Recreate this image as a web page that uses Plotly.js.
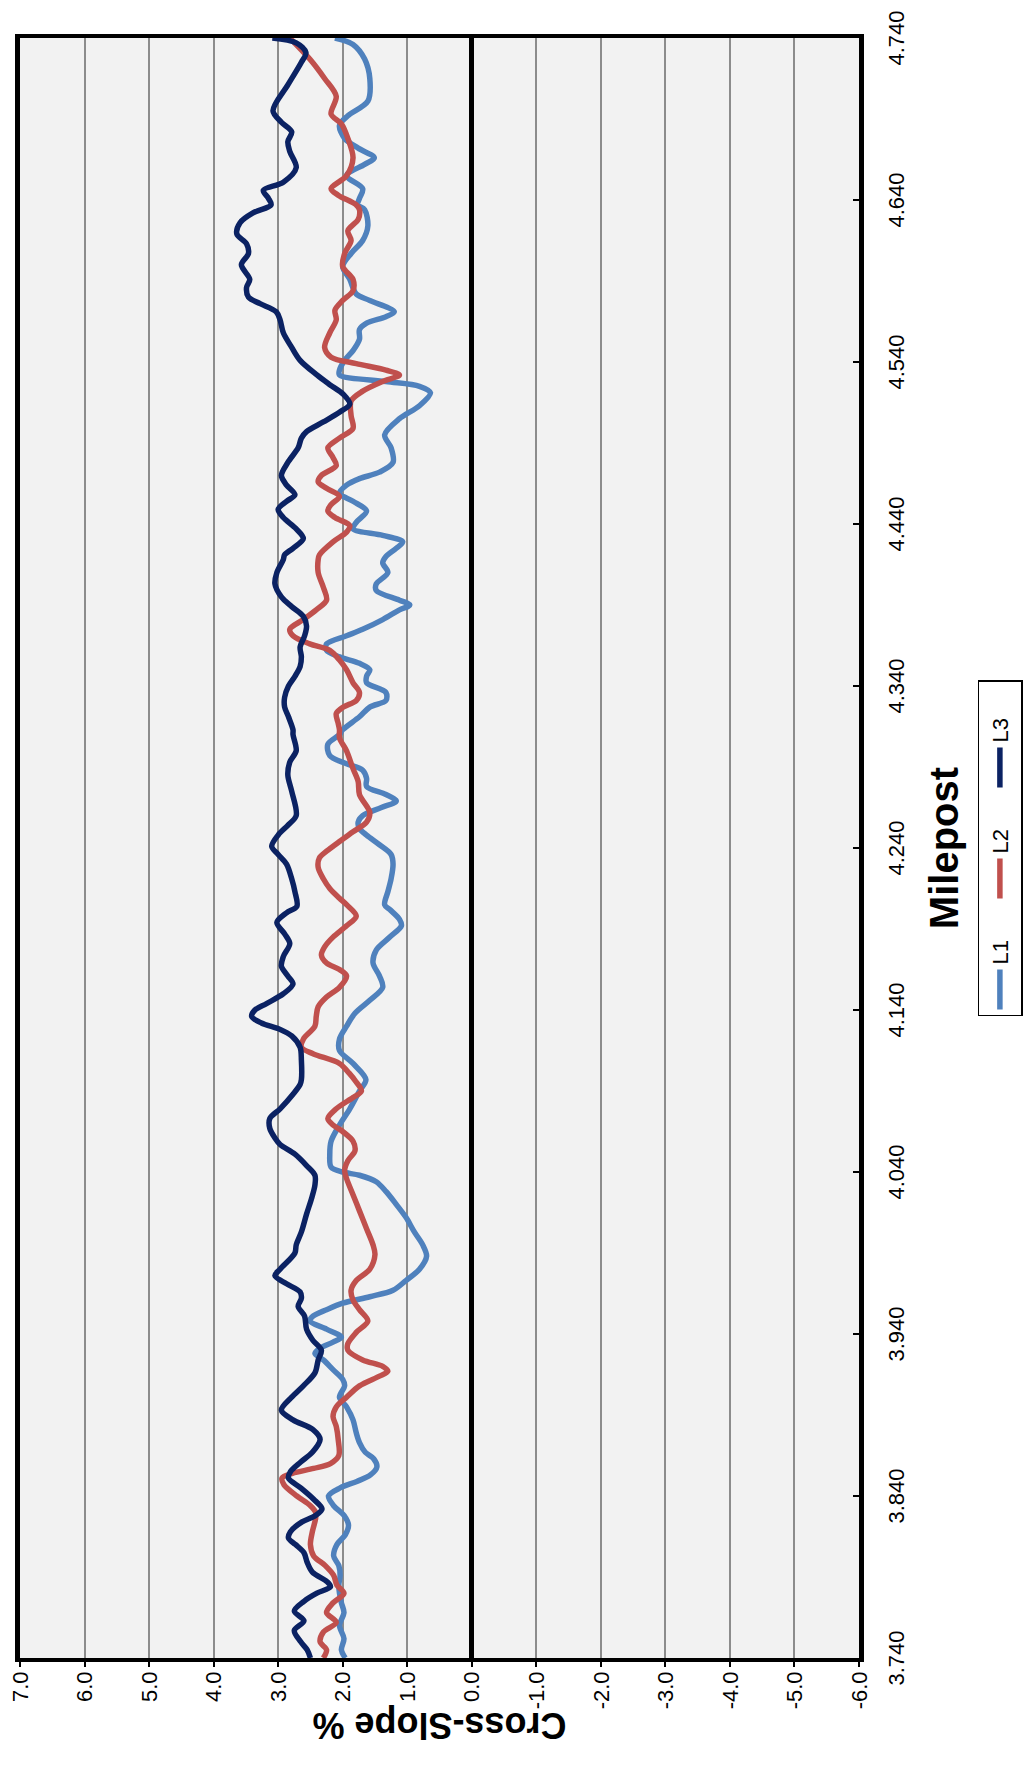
<!DOCTYPE html>
<html><head><meta charset="utf-8">
<script src="https://cdn.plot.ly/plotly-3.0.1.min.js"></script>
<style>
html,body{margin:0;padding:0;background:#fff;overflow:hidden;width:1034px;height:1787px;}
#wrap{position:absolute;left:0;top:0;width:1787px;height:1034px;transform-origin:0 0;transform:translateY(1787px) rotate(-90deg);}
</style></head><body><div id="wrap"><div id="chart" style="width:1787px;height:1034px"></div></div>
<script>
// Milepost / cross-slope (%) readings per lane
const l1Mile = [4.740,4.736,4.727,4.715,4.701,4.692,4.686,4.678,4.672,4.666,4.662,4.655,4.647,4.641,4.637,4.634,4.624,4.615,4.607,4.599,4.591,4.582,4.578,4.571,4.568,4.564,4.560,4.554,4.547,4.541,4.535,4.532,4.528,4.525,4.521,4.513,4.505,4.495,4.487,4.478,4.472,4.468,4.464,4.459,4.454,4.448,4.441,4.437,4.433,4.429,4.425,4.420,4.416,4.410,4.403,4.399,4.393,4.390,4.387,4.381,4.375,4.371,4.366,4.362,4.358,4.354,4.350,4.346,4.342,4.336,4.331,4.327,4.321,4.313,4.310,4.304,4.297,4.292,4.288,4.283,4.278,4.273,4.269,4.265,4.260,4.256,4.252,4.248,4.242,4.236,4.230,4.221,4.213,4.205,4.202,4.196,4.192,4.185,4.177,4.169,4.161,4.154,4.146,4.138,4.130,4.122,4.115,4.107,4.097,4.090,4.079,4.069,4.059,4.051,4.043,4.040,4.038,4.034,4.028,4.020,4.012,4.003,3.995,3.988,3.980,3.973,3.967,3.963,3.959,3.955,3.951,3.948,3.943,3.938,3.935,3.931,3.928,3.924,3.918,3.912,3.908,3.901,3.895,3.887,3.879,3.873,3.867,3.863,3.858,3.853,3.849,3.845,3.840,3.834,3.828,3.822,3.816,3.810,3.803,3.797,3.791,3.785,3.780,3.774,3.768,3.760,3.752,3.745,3.740];
const l1Slope = [2.12,1.84,1.66,1.58,1.61,1.92,2.05,1.97,1.76,1.51,1.66,1.94,1.69,1.74,1.77,1.66,1.61,1.69,1.87,2.00,1.89,1.79,1.58,1.20,1.33,1.63,1.74,1.74,1.84,1.97,2.05,2.05,1.33,0.81,0.64,0.81,1.12,1.35,1.25,1.22,1.43,1.74,1.94,2.05,1.84,1.63,1.79,1.84,1.38,1.07,1.17,1.33,1.38,1.30,1.48,1.48,1.12,0.96,1.12,1.38,1.69,1.94,2.25,2.25,2.05,1.74,1.58,1.63,1.63,1.33,1.33,1.58,1.74,2.00,2.05,2.23,2.20,1.94,1.69,1.63,1.63,1.33,1.17,1.40,1.69,1.76,1.74,1.63,1.43,1.25,1.22,1.25,1.30,1.35,1.27,1.12,1.09,1.27,1.48,1.53,1.43,1.38,1.58,1.81,1.94,2.05,2.05,1.84,1.64,1.74,1.89,2.05,2.18,2.20,2.18,2.00,1.74,1.48,1.33,1.17,1.02,0.89,0.76,0.70,0.81,1.02,1.22,1.58,2.00,2.25,2.46,2.51,2.25,2.02,2.15,2.36,2.43,2.30,2.15,2.00,1.97,2.05,1.94,1.84,1.79,1.74,1.65,1.52,1.47,1.57,1.78,2.04,2.22,2.14,1.98,1.91,1.96,2.09,2.14,2.06,2.04,2.06,2.05,2.02,1.98,2.05,1.98,2.02,1.96];

const l2Mile = [4.740,4.727,4.715,4.704,4.693,4.687,4.678,4.666,4.655,4.647,4.643,4.637,4.634,4.628,4.621,4.615,4.607,4.599,4.591,4.584,4.578,4.572,4.566,4.558,4.549,4.543,4.539,4.535,4.532,4.528,4.522,4.516,4.507,4.499,4.493,4.487,4.481,4.476,4.470,4.466,4.462,4.457,4.452,4.448,4.444,4.439,4.435,4.429,4.421,4.418,4.410,4.401,4.393,4.387,4.381,4.375,4.371,4.366,4.362,4.356,4.350,4.342,4.336,4.331,4.327,4.323,4.317,4.313,4.308,4.300,4.289,4.281,4.273,4.262,4.256,4.250,4.244,4.238,4.234,4.228,4.221,4.215,4.209,4.205,4.198,4.192,4.185,4.179,4.174,4.169,4.165,4.161,4.154,4.148,4.142,4.136,4.130,4.122,4.117,4.113,4.107,4.101,4.096,4.090,4.086,4.079,4.073,4.069,4.065,4.059,4.053,4.047,4.041,4.036,4.026,4.016,4.005,3.995,3.989,3.980,3.973,3.967,3.961,3.955,3.948,3.941,3.934,3.930,3.924,3.920,3.917,3.914,3.908,3.901,3.895,3.889,3.883,3.875,3.865,3.860,3.857,3.854,3.851,3.847,3.840,3.834,3.830,3.826,3.818,3.810,3.803,3.797,3.791,3.785,3.780,3.774,3.768,3.762,3.756,3.750,3.745,3.740];
const l2Slope = [2.82,2.51,2.28,2.10,2.18,2.02,1.92,1.84,1.94,2.18,2.07,1.79,1.74,1.76,1.92,1.87,1.97,2.00,1.84,1.84,2.00,2.12,2.10,2.20,2.28,2.18,1.79,1.33,1.12,1.38,1.69,1.87,1.87,1.84,2.05,2.23,2.15,2.10,2.33,2.38,2.25,2.05,2.18,2.23,2.12,1.89,1.94,2.15,2.36,2.38,2.38,2.30,2.25,2.41,2.61,2.82,2.77,2.51,2.20,2.05,1.94,1.84,1.74,1.79,1.99,2.10,2.07,2.05,2.05,1.94,1.84,1.76,1.74,1.58,1.63,1.84,2.05,2.25,2.36,2.38,2.30,2.20,2.05,1.94,1.79,1.94,2.15,2.28,2.33,2.25,2.05,1.94,2.05,2.25,2.38,2.41,2.43,2.61,2.64,2.46,2.05,1.90,1.80,1.71,1.84,2.10,2.23,2.15,2.00,1.84,1.81,1.92,1.97,1.94,1.84,1.74,1.63,1.53,1.50,1.58,1.79,1.87,1.84,1.74,1.61,1.79,1.92,1.92,1.69,1.38,1.30,1.43,1.74,1.94,2.10,2.15,2.10,2.07,2.06,2.19,2.45,2.78,2.94,2.91,2.71,2.50,2.42,2.42,2.47,2.50,2.45,2.27,2.14,2.09,1.98,2.15,2.25,2.10,2.30,2.35,2.25,2.30];

const l3Mile = [4.740,4.737,4.731,4.725,4.711,4.695,4.688,4.682,4.676,4.670,4.660,4.651,4.646,4.641,4.637,4.632,4.626,4.619,4.613,4.607,4.600,4.591,4.586,4.580,4.576,4.571,4.566,4.558,4.549,4.541,4.532,4.526,4.520,4.514,4.509,4.503,4.497,4.493,4.487,4.478,4.470,4.464,4.458,4.454,4.449,4.444,4.437,4.431,4.425,4.421,4.418,4.410,4.403,4.395,4.389,4.383,4.377,4.371,4.364,4.358,4.352,4.346,4.340,4.333,4.327,4.321,4.313,4.310,4.300,4.293,4.285,4.275,4.260,4.254,4.248,4.241,4.236,4.230,4.221,4.213,4.204,4.200,4.194,4.187,4.181,4.173,4.167,4.161,4.156,4.150,4.144,4.140,4.136,4.132,4.128,4.124,4.117,4.109,4.097,4.094,4.088,4.079,4.073,4.067,4.061,4.057,4.051,4.044,4.038,4.032,4.024,4.014,4.003,3.995,3.990,3.980,3.976,3.971,3.966,3.962,3.957,3.951,3.943,3.936,3.930,3.924,3.916,3.908,3.901,3.893,3.887,3.881,3.875,3.867,3.861,3.855,3.851,3.845,3.838,3.832,3.828,3.824,3.818,3.814,3.810,3.805,3.799,3.793,3.787,3.784,3.780,3.775,3.769,3.763,3.757,3.750,3.745,3.740];
const l3Slope = [3.09,2.72,2.57,2.64,2.85,3.08,2.95,2.79,2.85,2.82,2.72,2.92,3.23,3.15,3.11,3.39,3.59,3.64,3.49,3.46,3.57,3.44,3.49,3.46,3.28,3.03,2.97,2.92,2.79,2.66,2.40,2.20,1.99,1.89,2.05,2.30,2.56,2.64,2.69,2.85,2.95,2.87,2.74,2.87,3.00,2.92,2.72,2.61,2.77,2.90,2.92,3.02,3.05,2.95,2.79,2.61,2.56,2.59,2.66,2.64,2.66,2.74,2.84,2.90,2.90,2.84,2.77,2.77,2.72,2.82,2.85,2.79,2.72,2.85,3.00,3.10,3.00,2.87,2.79,2.74,2.71,2.87,3.02,2.90,2.82,2.92,2.95,2.85,2.77,2.92,3.18,3.36,3.41,3.26,2.97,2.79,2.66,2.64,2.64,2.66,2.77,2.97,3.13,3.13,3.05,2.97,2.74,2.56,2.43,2.43,2.48,2.56,2.64,2.72,2.74,2.97,3.05,2.87,2.66,2.64,2.69,2.59,2.56,2.46,2.33,2.38,2.43,2.61,2.79,2.95,2.77,2.46,2.35,2.47,2.65,2.81,2.84,2.65,2.45,2.32,2.42,2.63,2.81,2.84,2.73,2.60,2.55,2.47,2.24,2.19,2.40,2.60,2.75,2.60,2.75,2.65,2.55,2.50];

const seriesNames = ['L1','L2','L3'];
const seriesColors = ['#4F81BD','#C0504D','#0B2263'];

const xTickVals = [3.74,3.84,3.94,4.04,4.14,4.24,4.34,4.44,4.54,4.64,4.74];
const xTickText = ['3.740','3.840','3.940','4.040','4.140','4.240','4.340','4.440','4.540','4.640','4.740'];
const yTickVals = [7,6,5,4,3,2,1,0,-1,-2,-3,-4,-5,-6];
const yTickText = ['7.0','6.0','5.0','4.0','3.0','2.0','1.0','0.0','-1.0','-2.0','-3.0','-4.0','-5.0','-6.0'];
const xTitle = 'Milepost';
const yTitle = 'Cross-Slope %';

const xs = [l1Mile, l2Mile, l3Mile];
const ys = [l1Slope, l2Slope, l3Slope];
const traces = seriesNames.map((n, i) => ({
  type: 'scatter', mode: 'lines', name: n,
  x: xs[i], y: ys[i],
  line: {color: seriesColors[i], width: 5.5, shape: 'spline', smoothing: 0.9}
}));

const FONT = 'Liberation Sans, Arial, sans-serif';
const layout = {
  width: 1787, height: 1034,
  margin: {l: 129, r: 38, t: 20, b: 174},
  paper_bgcolor: '#ffffff', plot_bgcolor: '#f2f2f2',
  font: {family: FONT, color: '#000'},
  showlegend: true,
  legend: {orientation: 'h', x: 0.5, xanchor: 'center', y: -0.14, yanchor: 'top',
    entrywidth: 56, entrywidthmode: 'pixels', itemwidth: 40,
    bordercolor: '#000', borderwidth: 1.5, bgcolor: '#fff', font: {size: 22, family: FONT}},
  xaxis: {
    range: [3.74, 4.74], tickvals: xTickVals, ticktext: xTickText,
    ticks: 'inside', ticklen: 6, tickwidth: 2, tickcolor: '#000',
    showline: true, linecolor: '#000', linewidth: 5, mirror: true,
    showgrid: false, zeroline: false, ticklabelstandoff: 14,
    tickfont: {size: 22, family: FONT, color: '#000'},
    title: {text: xTitle, font: {size: 40, family: FONT, weight: 'bold', color: '#000'}, standoff: 23}
  },
  yaxis: {
    range: [-6, 7], tickvals: yTickVals, ticktext: yTickText,
    ticks: 'outside', ticklen: 5, tickwidth: 2, tickcolor: '#000',
    showline: true, linecolor: '#000', linewidth: 4, mirror: true,
    showgrid: true, gridcolor: '#8c8c8c', gridwidth: 2,
    zeroline: true, zerolinecolor: '#000', zerolinewidth: 5,
    tickfont: {size: 22, family: FONT, color: '#000'}
  },
  annotations: [{
    text: yTitle, xref: 'paper', yref: 'paper', x: 0, y: 0.5,
    xshift: -67, xanchor: 'center', yanchor: 'middle', textangle: -90, showarrow: false,
    font: {size: 36, family: FONT, weight: 'bold', color: '#000'}
  }]
};
Plotly.newPlot('chart', traces, layout, {displayModeBar: false, staticPlot: true});
</script></body></html>
